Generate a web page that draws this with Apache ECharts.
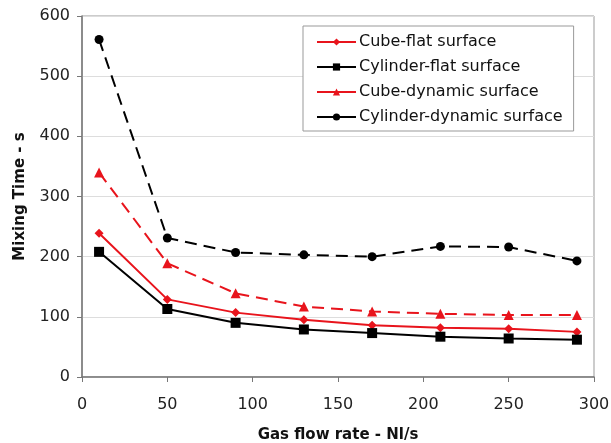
<!DOCTYPE html>
<html>
<head>
<meta charset="utf-8">
<script src="https://cdn.jsdelivr.net/npm/echarts@6/dist/echarts.min.js"></script>
<style>
html, body { margin: 0; padding: 0; background: #fff; }
#chart { width: 611px; height: 443px; }
</style>
</head>
<body>
<div id="chart"></div>
<script>
// gas flow rate, Nl/s
var flowRate = [10, 50, 90, 130, 170, 210, 250, 290];
var cubeFlat = [239, 129, 107, 95, 86, 82, 80, 75];
var cylinderFlat = [208, 113, 90, 79, 73, 67, 64, 62];
var cubeDynamic = [340, 189, 139, 117, 109, 105, 103, 103];
var cylinderDynamic = [561, 231, 207, 203, 200, 217, 216, 193];
var seriesNames = ['Cube-flat surface', 'Cylinder-flat surface', 'Cube-dynamic surface', 'Cylinder-dynamic surface'];

var myChart = echarts.init(document.getElementById('chart'));

var pairs = function(ys) {
    var out = [];
    for (var i = 0; i < flowRate.length; i++) {
        out.push([flowRate[i], ys[i]]);
    }
    return out;
};

var makeSeries = function(name, ys, color, symbol, size, dashed) {
    return {
        name: name,
        type: 'line',
        data: pairs(ys),
        symbol: symbol,
        symbolSize: size,
        color: color,
        lineStyle: { color: color, width: 2, type: dashed ? [12, 7] : 'solid' },
        itemStyle: { color: color },
        z: 3
    };
};

var font = 'DejaVu Sans, Liberation Sans, sans-serif';

var option = {
    animation: false,
    textStyle: { fontFamily: font },
    grid: {
        left: 82, right: 17, top: 16, bottom: 66,
        outerBoundsMode: 'none',
        show: true, borderColor: '#999', borderWidth: 1
    },
    legend: {
        orient: 'vertical',
        left: 303, top: 26,
        padding: [8, 11, 6, 13],
        itemGap: 9,
        itemWidth: 39, itemHeight: 9,
        borderColor: '#999', borderWidth: 1,
        backgroundColor: '#fff',
        data: seriesNames,
        lineStyle: { type: 'solid', width: 2 },
        textStyle: { fontFamily: font, fontSize: 16, color: '#111', padding: [0, 0, 0, -2] }
    },
    xAxis: {
        type: 'value',
        min: 0, max: 300, interval: 50,
        name: 'Gas flow rate - Nl/s',
        nameLocation: 'middle',
        nameGap: 51,
        nameTextStyle: { fontFamily: font, fontSize: 15, fontWeight: 'bold', color: '#111' },
        axisLine: { show: true, lineStyle: { color: '#777', width: 1.5 } },
        axisTick: { show: true, inside: false, length: 5, lineStyle: { color: '#777' } },
        axisLabel: { fontFamily: font, fontSize: 16, color: '#222', margin: 20 },
        splitLine: { show: false }
    },
    yAxis: {
        type: 'value',
        min: 0, max: 600, interval: 100,
        name: 'Mixing Time - s',
        nameLocation: 'middle',
        nameGap: 54,
        nameTextStyle: { fontFamily: font, fontSize: 15, fontWeight: 'bold', color: '#111' },
        axisLine: { show: true, lineStyle: { color: '#777', width: 1.5 } },
        axisTick: { show: true, inside: false, length: 5, lineStyle: { color: '#777' } },
        axisLabel: { fontFamily: font, fontSize: 16, color: '#222', margin: 12 },
        splitLine: { show: true, lineStyle: { color: '#ddd', width: 1 } }
    },
    series: [
        makeSeries(seriesNames[0], cubeFlat, '#e8141c', 'diamond', 9, false),
        makeSeries(seriesNames[1], cylinderFlat, '#000', 'rect', 10, false),
        makeSeries(seriesNames[2], cubeDynamic, '#e8141c', 'triangle', 10, true),
        makeSeries(seriesNames[3], cylinderDynamic, '#000', 'circle', 9, true)
    ]
};

myChart.setOption(option);
</script>
</body>
</html>
